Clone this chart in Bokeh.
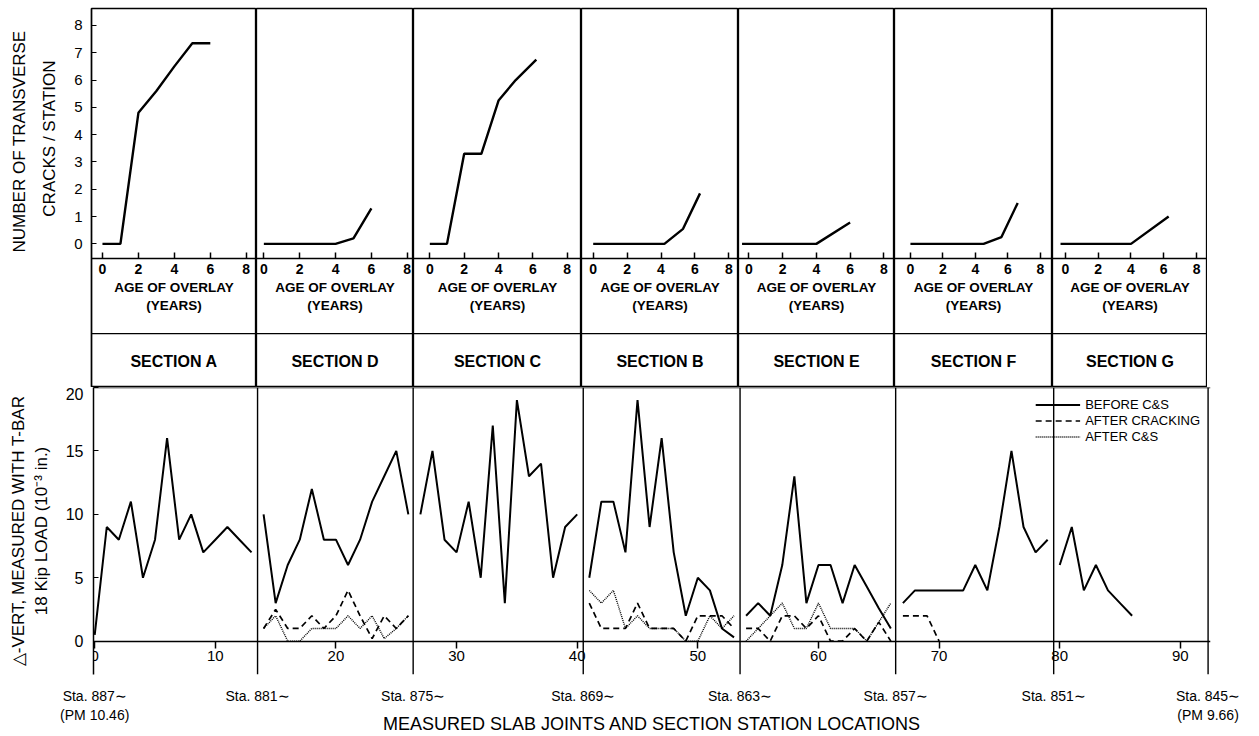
import math
from bokeh.plotting import figure
from bokeh.models import (LinearAxis, FixedTicker, Range1d, Span, Legend, LegendItem, Title)
from bokeh.layouts import row, column
from bokeh.embed import file_html
from bokeh.resources import INLINE
from bokeh.core.properties import value

# ---------------- data: top panels (cracks per station vs overlay age) ----------------
sections = ["A", "D", "C", "B", "E", "F", "G"]
age_A = [0, 1, 2, 3, 4, 5, 6]
cracks_A = [0, 0, 4.8, 5.6, 6.5, 7.35, 7.35]
age_D = [0, 4, 5, 6]
cracks_D = [0, 0, 0.2, 1.3]
age_C = [0, 1, 2, 3, 4, 5, 6.2]
cracks_C = [0, 0, 3.3, 3.3, 5.25, 6.0, 6.75]
age_B = [0, 4.2, 5.3, 6.3]
cracks_B = [0, 0, 0.55, 1.85]
age_E = [-0.4, 4, 6]
cracks_E = [0, 0, 0.78]
age_F = [0, 4.5, 5.6, 6.6]
cracks_F = [0, 0, 0.25, 1.5]
age_G = [-0.3, 4, 6.3]
cracks_G = [0, 0, 1.0]
age_ticks = [0, 2, 4, 6, 8]
crack_ticks = [0, 1, 2, 3, 4, 5, 6, 7, 8]

# ---------------- data: bottom panel (deflection at measured slab joints) ----------------
first_joint = [0, 14, 27, 41, 54, 67, 80]          # first joint of sections A, D, C, B, E, F, G
before_A = [0.5, 9, 8, 11, 5, 8, 16, 8, 10, 7, 8, 9, 8, 7]
before_D = [10, 3, 6, 8, 12, 8, 8, 6, 8, 11, 13, 15, 10]
before_C = [10, 15, 8, 7, 11, 5, 17, 3, 19, 13, 14, 5, 9, 10]
before_B = [5, 11, 11, 7, 19, 9, 16, 7, 2, 5, 4, 1, 0.3]
before_E = [2, 3, 2, 6, 13, 3, 6, 6, 3, 6, 4.3, 2.6, 1]
before_F = [3, 4, 4, 4, 4, 4, 6, 4, 9, 15, 9, 7, 8]
before_G = [6, 9, 4, 6, 4, 3, 2]
crack_D = [1, 2.5, 1, 1, 2, 1, 2, 4, 2, 0.2, 2, 1, 2]
crack_B = [3, 1, 1, 1, 3, 1, 1, 1, 0, 2, 2, 2, 1]
crack_E = [1, 1, 0, 2, 2, 1, 2, 0, 0, 1, 0, 1.5, 0]
crack_F = [2, 2, 2, 0]
cs_D = [1, 2, 0, 0, 1, 1, 1, 2, 1, 2, 0.2, 1, 2]
cs_B = [4, 3, 4, 1, 2, 1, 1, 1, 0, 0, 2, 1, 2]
cs_E = [0, 1, 2, 3, 1, 1, 3, 1, 1, 1, 0, 1.5, 3]
joint_ticks = [0, 10, 20, 30, 40, 50, 60, 70, 80, 90]
defl_ticks = [0, 5, 10, 15, 20]
station_pos = [0, 13.5, 26.4, 40.5, 53.5, 66.4, 79.5, 92.3]
station_labels = ["Sta. 887\u223c\n(PM 10.46)", "Sta. 881\u223c", "Sta. 875\u223c", "Sta. 869\u223c",
                  "Sta. 863\u223c", "Sta. 857\u223c", "Sta. 851\u223c", "Sta. 845\u223c\n(PM 9.66)"]

# ---------------- layout constants ----------------
FONT = "Liberation Sans"
col_w = [165, 157, 168, 157, 156, 158, 155]
x_start = [-0.61, -0.41, -0.95, -0.69, -0.61, -0.98, -0.79]
x_end = [8.57, 8.35, 8.83, 8.57, 8.63, 8.74, 8.67]
TOP_LEFT = 91
TOP_H = 387
Y_TOP, Y_BOT = 8.62, -5.26
AXIS_Y = -0.54
BOX_Y = -3.29
HEADER_Y = -4.31

top_data = [(age_A, cracks_A), (age_D, cracks_D), (age_C, cracks_C), (age_B, cracks_B),
            (age_E, cracks_E), (age_F, cracks_F), (age_G, cracks_G)]

tops = []
for i, sec in enumerate(sections):
    first = i == 0
    p = figure(width=col_w[i] + (TOP_LEFT if first else 0), height=TOP_H,
               x_range=Range1d(x_start[i], x_end[i]), y_range=Range1d(Y_BOT, Y_TOP),
               x_axis_location=None, y_axis_location=None,
               min_border_left=TOP_LEFT if first else 0, min_border_right=0,
               min_border_top=8, min_border_bottom=0,
               output_backend="svg", toolbar_location=None)
    p.grid.visible = False
    p.outline_line_color = "black"
    p.outline_line_width = 1.3
    p.background_fill_color = "white"
    p.border_fill_color = "white"
    xa = LinearAxis(fixed_location=AXIS_Y, ticker=FixedTicker(ticks=age_ticks),
                    axis_label="AGE OF OVERLAY\n(YEARS)")
    xa.axis_line_color = "black"
    xa.axis_line_width = 1.5
    xa.major_tick_in = 6
    xa.major_tick_out = 0
    xa.major_tick_line_width = 1.5
    xa.minor_tick_line_color = None
    xa.major_label_standoff = 5
    xa.major_label_text_font = FONT
    xa.major_label_text_font_style = "bold"
    xa.major_label_text_font_size = "14px"
    xa.major_label_text_color = "black"
    xa.axis_label_standoff = 3
    xa.axis_label_text_font = FONT
    xa.axis_label_text_font_style = "bold"
    xa.axis_label_text_font_size = "13.5px"
    xa.axis_label_text_color = "black"
    p.add_layout(xa, "below")
    if first:
        ya = LinearAxis(ticker=FixedTicker(ticks=crack_ticks))
        ya.axis_line_color = "black"
        ya.axis_line_width = 1.5
        ya.major_tick_in = 5
        ya.major_tick_out = 0
        ya.minor_tick_line_color = None
        ya.major_label_standoff = 9
        ya.major_label_text_font = FONT
        ya.major_label_text_font_size = "15px"
        ya.major_label_text_color = "black"
        p.add_layout(ya, "left")
        p.add_layout(Title(text="CRACKS / STATION", align="right", offset=52,
                           text_font=FONT, text_font_size="17px", text_font_style="normal",
                           text_color="black", standoff=26), "left")
        p.add_layout(Title(text="NUMBER OF TRANSVERSE", align="right", offset=22,
                           text_font=FONT, text_font_size="17px", text_font_style="normal",
                           text_color="black", standoff=-9), "left")
    ages, cracks = top_data[i]
    p.line(ages, cracks, line_color="black", line_width=2.4)
    p.add_layout(Span(location=BOX_Y, dimension="width", line_color="black", line_width=1.3))
    p.text(x=[(x_start[i] + x_end[i]) / 2], y=[HEADER_Y], text=[f"SECTION {sec}"],
           text_align="center", text_baseline="middle", text_font=value(FONT),
           text_font_style="bold", text_font_size="16px", text_color="black")
    tops.append(p)

# ---------------- bottom panel ----------------
def joined(parts, starts):
    xs, ys = [], []
    for vals, s in zip(parts, starts):
        if xs:
            xs.append(float("nan")); ys.append(float("nan"))
        xs.extend(range(s, s + len(vals)))
        ys.extend(vals)
    return xs, ys

bx, by = joined([before_A, before_D, before_C, before_B, before_E, before_F, before_G], first_joint)
cx, cy = joined([crack_D, crack_B, crack_E, crack_F],
                [first_joint[1], first_joint[3], first_joint[4], first_joint[5]])
sx, sy = joined([cs_D, cs_B, cs_E], [first_joint[1], first_joint[3], first_joint[4]])

bot = figure(width=1259, height=349, x_range=Range1d(-0.1, 92.5), y_range=Range1d(-2.63, 20),
             x_axis_location=None, y_axis_location=None,
             min_border_left=93, min_border_right=49, min_border_top=0, min_border_bottom=59,
             output_backend="svg", toolbar_location=None)
bot.grid.visible = False
bot.outline_line_color = None

ya2 = LinearAxis(ticker=FixedTicker(ticks=defl_ticks),
                 axis_label="\u25b3-VERT, MEASURED WITH T-BAR\n18 Kip LOAD (10\u207b\u00b3 in.)")
ya2.axis_line_color = "black"
ya2.axis_line_width = 1.5
ya2.major_tick_in = 5
ya2.major_tick_out = 0
ya2.minor_tick_line_color = None
ya2.major_label_standoff = 10
ya2.major_label_text_font = FONT
ya2.major_label_text_font_size = "16px"
ya2.major_label_text_color = "black"
ya2.axis_label_standoff = 12
ya2.axis_label_text_font = FONT
ya2.axis_label_text_font_style = "normal"
ya2.axis_label_text_font_size = "17px"
ya2.axis_label_text_color = "black"
bot.add_layout(ya2, "left")

xa0 = LinearAxis(fixed_location=0, ticker=FixedTicker(ticks=joint_ticks))
xa0.axis_line_color = "black"
xa0.axis_line_width = 1.5
xa0.major_tick_in = 0
xa0.major_tick_out = 7
xa0.major_tick_line_width = 1.5
xa0.minor_tick_line_color = None
xa0.major_label_standoff = 3
xa0.major_label_text_font = FONT
xa0.major_label_text_font_size = "15px"
xa0.major_label_text_color = "black"
bot.add_layout(xa0, "below")

xs_ax = LinearAxis(ticker=FixedTicker(ticks=station_pos),
                   major_label_overrides={p_: l_ for p_, l_ in zip(station_pos, station_labels)},
                   axis_label="MEASURED SLAB JOINTS AND SECTION STATION LOCATIONS")
xs_ax.axis_line_color = None
xs_ax.major_tick_line_color = None
xs_ax.minor_tick_line_color = None
xs_ax.major_label_standoff = 7
xs_ax.major_label_text_font = FONT
xs_ax.major_label_text_font_size = "14px"
xs_ax.major_label_text_color = "black"
xs_ax.axis_label_standoff = -12
xs_ax.axis_label_text_font = FONT
xs_ax.axis_label_text_font_style = "normal"
xs_ax.axis_label_text_font_size = "18px"
xs_ax.axis_label_text_color = "black"
bot.add_layout(xs_ax, "below")

for b in station_pos[1:]:
    bot.add_layout(Span(location=b, dimension="height", line_color="black", line_width=1.4))
bot.add_layout(Span(location=20, dimension="width", line_color="black", line_width=1.4))

r1 = bot.line(bx, by, line_color="black", line_width=2.0)
r2 = bot.line(cx, cy, line_color="black", line_width=1.7, line_dash="6 4")
r3 = bot.line(sx, sy, line_color="black", line_width=1.4, line_dash="1 1")

leg = Legend(items=[LegendItem(label="BEFORE C&S", renderers=[r1]),
                    LegendItem(label="AFTER CRACKING", renderers=[r2]),
                    LegendItem(label="AFTER C&S", renderers=[r3])],
             location="top_right", border_line_color=None, background_fill_alpha=0,
             label_text_font=FONT, label_text_font_size="13px", label_text_color="black",
             glyph_width=45, glyph_height=15, label_height=15, spacing=1, padding=2, margin=10)
bot.add_layout(leg)

layout = column(row(*tops, spacing=0), bot, spacing=0)
open("out.html", "w").write(file_html(layout, INLINE))
